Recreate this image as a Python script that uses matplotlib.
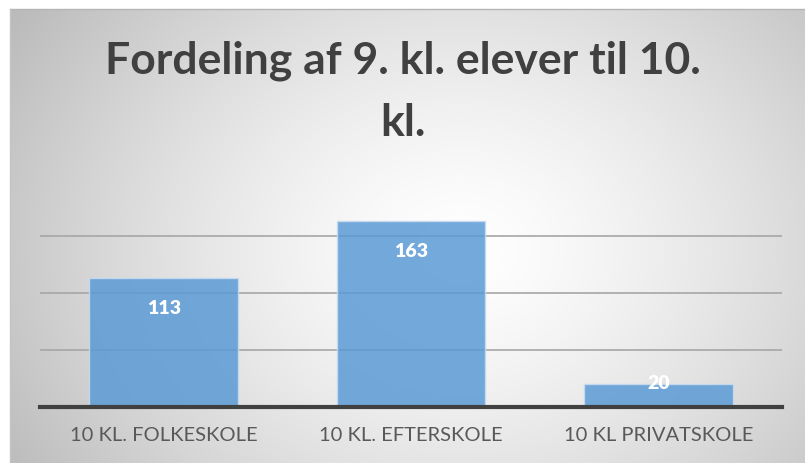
import numpy as np
import matplotlib
matplotlib.use("Agg")
import matplotlib.pyplot as plt

# data
categories = ["10 KL. FOLKESKOLE", "10 KL. EFTERSKOLE", "10 KL PRIVATSKOLE"]
values = [113, 163, 20]
title_lines = ["Fordeling af 9. kl. elever til 10.", "kl."]

W, H = 805, 464
fig = plt.figure(figsize=(W / 100, H / 100), dpi=100)
fig.patch.set_facecolor("white")

# radial grey->white background panel
px0, py0 = 10, 10
pw, ph = W - px0, H - py0
bg = fig.add_axes([px0 / W, 0, pw / W, ph / H], zorder=0)
yy, xx = np.mgrid[0:ph, 0:pw]
cx, cy = 450, 240
r = np.sqrt(((xx - cx) / 520.0) ** 2 + ((yy - cy) / 420.0) ** 2)
shade = 1 - 0.26 * np.clip(r, 0, 1.2) ** 1.4
bg.imshow(np.dstack([shade] * 3), aspect="auto", interpolation="bilinear")
bg.set_axis_off()
fig.add_artist(plt.Line2D([px0 / W, 1], [1 - py0 / H] * 2, color="#b5b5b5", lw=1))
fig.add_artist(plt.Line2D([px0 / W] * 2, [0, 1 - py0 / H], color="#c4c4c4", lw=1))

# plot area
left, right, base, top = 40, 782, 408, 202.5
ax = fig.add_axes([left / W, (H - base) / H, (right - left) / W, (base - top) / H], zorder=1)
ax.patch.set_alpha(0)
x = np.arange(len(categories))
bars = ax.bar(x, values, width=0.6, color="#5b9bd5", alpha=0.85,
              edgecolor="#c9dcf0", linewidth=1, zorder=3)
ax.set_xlim(-0.5, len(categories) - 0.5)
ax.set_ylim(0, 180)
ax.set_yticks([50, 100, 150])
ax.yaxis.grid(True, color="#a6a6a6", lw=1.2, zorder=0)
ax.tick_params(axis="y", length=0, labelleft=False)
ax.tick_params(axis="x", length=0, pad=14, labelsize=14.5, labelcolor="#595959")
ax.set_xticks(x)
ax.set_xticklabels(categories, family="Lato")
for s in ["left", "right", "top"]:
    ax.spines[s].set_visible(False)
ax.spines["bottom"].set_color("#404040")
ax.spines["bottom"].set_linewidth(3)
ax.spines["bottom"].set_zorder(4)

ppu = (base - top) / 180.0  # pixels per unit
for xi, v in zip(x, values):
    off = max(-30, 24 - v * ppu)  # inside end, pushed up when bar is short
    ax.annotate(str(v), (xi, v), xytext=(0, off * 0.72), textcoords="offset points",
                ha="center", va="center", color="white", fontsize=14,
                fontweight="heavy", family="Lato", zorder=5)

fig.text(0.5, 1 - 61 / H, title_lines[0], ha="center", va="center",
         fontsize=32, fontweight="bold", color="#404040", family="Lato")
fig.text(0.5, 1 - 123 / H, title_lines[1], ha="center", va="center",
         fontsize=32, fontweight="bold", color="#404040", family="Lato")

fig.savefig("out.png", dpi=100)
